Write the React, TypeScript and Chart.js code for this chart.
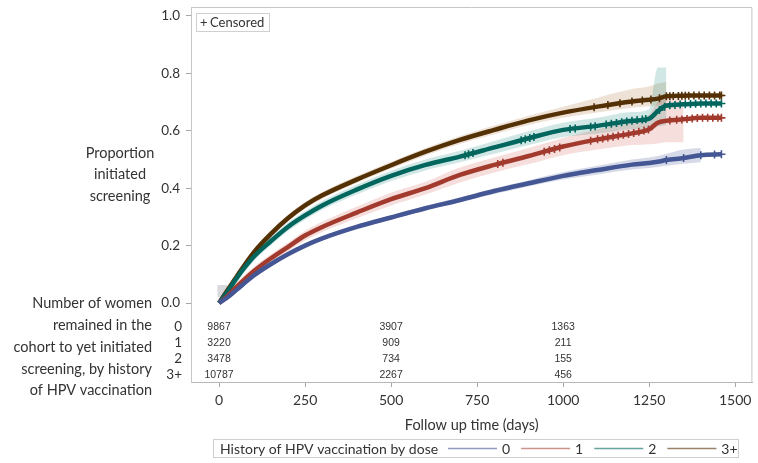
import React, { useEffect, useRef } from 'react';
import { Chart, registerables } from 'chart.js';
Chart.register(...registerables);

// ---- data ----
const DAYS = [0, 25, 50, 100, 150, 200, 250, 300, 400, 500, 600, 700, 800, 900, 1000, 1100, 1200, 1250, 1275, 1300, 1350, 1400, 1461];

const DOSE_LABELS = ['0', '1', '2', '3+'];

const DOSE0 = [0, 0.02, 0.045, 0.095, 0.135, 0.17, 0.2, 0.225, 0.265, 0.298, 0.33, 0.359, 0.39, 0.417, 0.443, 0.463, 0.482, 0.488, 0.492, 0.498, 0.505, 0.515, 0.518];
const DOSE1 = [0, 0.025, 0.055, 0.11, 0.155, 0.195, 0.235, 0.265, 0.315, 0.362, 0.4, 0.446, 0.481, 0.512, 0.545, 0.57, 0.591, 0.605, 0.628, 0.635, 0.64, 0.645, 0.645];
const DOSE2 = [0, 0.04, 0.085, 0.16, 0.215, 0.265, 0.305, 0.34, 0.395, 0.443, 0.481, 0.51, 0.542, 0.574, 0.603, 0.617, 0.635, 0.642, 0.668, 0.688, 0.692, 0.695, 0.695];
const DOSE3 = [0, 0.045, 0.09, 0.175, 0.24, 0.295, 0.34, 0.375, 0.43, 0.48, 0.527, 0.568, 0.603, 0.636, 0.663, 0.684, 0.702, 0.708, 0.712, 0.72, 0.722, 0.723, 0.723];

const DOSE0_LOW = [0, 0.012, 0.038, 0.088, 0.128, 0.163, 0.193, 0.218, 0.258, 0.29, 0.322, 0.35, 0.38, 0.406, 0.43, 0.448, 0.465, 0.47, 0.474, 0.478, 0.485, 0.49, null];
const DOSE0_HIGH = [0, 0.028, 0.052, 0.102, 0.142, 0.177, 0.207, 0.232, 0.272, 0.306, 0.338, 0.368, 0.4, 0.428, 0.456, 0.478, 0.5, 0.507, 0.512, 0.52, 0.535, 0.54, null];
const DOSE1_LOW = [0, 0.015, 0.04, 0.095, 0.14, 0.18, 0.218, 0.247, 0.295, 0.34, 0.378, 0.42, 0.455, 0.484, 0.515, 0.535, 0.55, 0.553, 0.556, 0.56, 0.56, null, null];
const DOSE1_HIGH = [0, 0.035, 0.07, 0.125, 0.17, 0.21, 0.252, 0.283, 0.335, 0.384, 0.422, 0.472, 0.507, 0.54, 0.575, 0.605, 0.635, 0.655, 0.7, 0.71, 0.71, null, null];
const DOSE2_LOW = [0, 0.03, 0.07, 0.145, 0.2, 0.25, 0.29, 0.325, 0.378, 0.425, 0.462, 0.49, 0.52, 0.55, 0.578, 0.59, 0.605, 0.608, 0.615, 0.62, null, null, null];
const DOSE2_HIGH = [0, 0.05, 0.1, 0.175, 0.23, 0.28, 0.32, 0.355, 0.412, 0.461, 0.5, 0.53, 0.564, 0.598, 0.628, 0.645, 0.665, 0.675, 0.82, 0.82, null, null, null];
const DOSE3_LOW = [0, 0.035, 0.08, 0.163, 0.228, 0.283, 0.328, 0.363, 0.418, 0.468, 0.514, 0.554, 0.588, 0.62, 0.645, 0.664, 0.68, 0.685, 0.688, 0.69, null, null, null];
const DOSE3_HIGH = [0, 0.055, 0.1, 0.187, 0.252, 0.307, 0.352, 0.387, 0.442, 0.492, 0.54, 0.582, 0.618, 0.652, 0.684, 0.715, 0.745, 0.755, 0.765, 0.77, null, null, null];

const START_BAND_DAYS = [-5, 25];
const START_BAND_LOW = [0.02, 0.02];
const START_BAND_HIGH = [0.063, 0.063];

const CENSOR0 = [1300, 1350, 1400, 1440, 1460];
const CENSOR1 = [810, 825, 945, 960, 975, 990, 1080, 1100, 1115, 1130, 1145, 1160, 1175, 1190, 1205, 1220, 1235, 1248, 1310, 1330, 1345, 1360, 1375, 1390, 1405, 1420, 1435, 1450, 1460];
const CENSOR2 = [715, 725, 738, 878, 890, 903, 915, 1020, 1035, 1080, 1093, 1125, 1140, 1155, 1170, 1185, 1200, 1215, 1230, 1240, 1280, 1295, 1310, 1325, 1340, 1355, 1370, 1385, 1400, 1415, 1430, 1445, 1460];
const CENSOR3 = [1090, 1130, 1165, 1200, 1230, 1255, 1280, 1300, 1310, 1320, 1335, 1345, 1355, 1365, 1380, 1395, 1410, 1425, 1440, 1455, 1460];

const X_TICKS = [0, 250, 500, 750, 1000, 1250, 1500];
const Y_TICKS = [0, 0.2, 0.4, 0.6, 0.8, 1.0];

const RISK_DAYS = [0, 500, 1000];
const RISK0 = [9867, 3907, 1363];
const RISK1 = [3220, 909, 211];
const RISK2 = [3478, 734, 155];
const RISK3 = [10787, 2267, 456];

const Y_TITLE = ['Proportion', 'initiated', 'screening'];
const RISK_TITLE = ['Number of women', 'remained in the', 'cohort to yet initiated', 'screening, by history', 'of HPV vaccination'];
const X_TITLE = 'Follow up time (days)';
const LEGEND_TITLE = 'History of HPV vaccination by dose';

// ---- styles ----
const COLORS = ['#445694', '#A23A2E', '#01665E', '#543005'];
const BAND_COLORS = ['rgba(68,86,148,0.22)', 'rgba(200,70,60,0.18)', 'rgba(1,120,110,0.18)', 'rgba(170,110,50,0.2)'];
const LEGEND_COLORS = ['rgba(68,86,148,0.6)', 'rgba(162,58,46,0.55)', 'rgba(1,102,94,0.6)', 'rgba(84,48,5,0.6)'];
const FONT = 'Lato, "Open Sans", sans-serif';
const TEXT = '#333333';

const SERIES = [DOSE0, DOSE1, DOSE2, DOSE3];
const LOWS = [DOSE0_LOW, DOSE1_LOW, DOSE2_LOW, DOSE3_LOW];
const HIGHS = [DOSE0_HIGH, DOSE1_HIGH, DOSE2_HIGH, DOSE3_HIGH];
const CENSORS = [CENSOR0, CENSOR1, CENSOR2, CENSOR3];
const RISKS = [RISK0, RISK1, RISK2, RISK3];

function pts(days: number[], vals: (number | null)[]) {
  return days.map((d, i) => ({ x: d, y: vals[i] }));
}
function onCurve(days: number[], vals: number[], d: number) {
  for (let i = 1; i < days.length; i++) {
    if (d <= days[i]) {
      const t = (d - days[i - 1]) / (days[i] - days[i - 1]);
      return vals[i - 1] + t * (vals[i] - vals[i - 1]);
    }
  }
  return vals[vals.length - 1];
}

const overlayPlugin = {
  id: 'overlay',
  afterDraw(chart: any) {
    const ctx = chart.ctx as CanvasRenderingContext2D;
    const { left, right, top, bottom } = chart.chartArea;
    const xs = chart.scales.x;
    const ys = chart.scales.y;
    ctx.save();
    // frame top / right
    ctx.strokeStyle = '#c6c6c6';
    ctx.lineWidth = 1;
    ctx.beginPath();
    ctx.moveTo(left, top + 0.5);
    ctx.lineTo(right - 0.5, top + 0.5);
    ctx.lineTo(right - 0.5, bottom);
    ctx.stroke();

    // censored inset legend
    ctx.strokeStyle = '#d0d0d0';
    ctx.strokeRect(left + 5.5, top + 6.5, 73, 18);
    ctx.fillStyle = TEXT;
    ctx.font = `13px ${FONT}`;
    ctx.textBaseline = 'middle';
    ctx.textAlign = 'left';
    ctx.fillText('+', left + 9, top + 16);
    ctx.fillText('Censored', left + 19, top + 16);

    // y title
    ctx.font = `14.5px ${FONT}`;
    ctx.textAlign = 'center';
    Y_TITLE.forEach((s, i) => ctx.fillText(s, 120, 153 + i * 21.5));

    // risk table title
    ctx.textAlign = 'right';
    RISK_TITLE.forEach((s, i) => ctx.fillText(s, 152, 303.5 + i * 21.8));

    // risk table
    const y0 = ys.getPixelForValue(0);
    RISKS.forEach((row, r) => {
      const ry = y0 + 24 + r * 16;
      ctx.font = `13.5px ${FONT}`;
      ctx.textAlign = 'right';
      ctx.fillStyle = TEXT;
      ctx.fillText(DOSE_LABELS[r], left - 9, ry);
      ctx.font = `10.5px "Liberation Sans", Arial, sans-serif`;
      ctx.textAlign = 'center';
      row.forEach((n, k) => ctx.fillText(String(n), xs.getPixelForValue(RISK_DAYS[k]), ry));
    });

    // x title
    ctx.font = `14.5px ${FONT}`;
    ctx.textAlign = 'center';
    ctx.fillText(X_TITLE, (left + right) / 2, 425);

    // legend
    ctx.strokeStyle = '#cfcfcf';
    ctx.strokeRect(213.5, 439.5, 525, 18);
    ctx.textAlign = 'left';
    ctx.font = `14px ${FONT}`;
    ctx.fillText(LEGEND_TITLE, 220, 449);
    let lx = 448;
    DOSE_LABELS.forEach((lab, i) => {
      ctx.strokeStyle = LEGEND_COLORS[i];
      ctx.lineWidth = 1.5;
      ctx.beginPath();
      ctx.moveTo(lx, 448.5);
      ctx.lineTo(lx + 49, 448.5);
      ctx.stroke();
      ctx.fillStyle = TEXT;
      ctx.fillText(lab, lx + 54, 449);
      lx += 54 + ctx.measureText(lab).width + 11;
    });
    ctx.restore();
  },
};

export default function App() {
  const ref = useRef<HTMLCanvasElement>(null);
  useEffect(() => {
    if (!ref.current) return;
    const datasets: any[] = [];
    // censor marks (top)
    CENSORS.forEach((cs, i) => {
      datasets.push({
        label: 'cens' + i,
        data: cs.map((d) => ({ x: d, y: onCurve(DAYS, SERIES[i], d) })),
        showLine: false,
        pointStyle: 'cross',
        pointRadius: 4,
        borderColor: COLORS[i],
        backgroundColor: COLORS[i],
        pointBorderWidth: 1.6,
        order: 0,
      });
    });
    // curves
    SERIES.forEach((vals, i) => {
      datasets.push({
        label: DOSE_LABELS[i],
        data: pts(DAYS, vals),
        borderColor: COLORS[i],
        borderWidth: 4.5,
        pointRadius: 0,
        cubicInterpolationMode: 'monotone',
        fill: false,
        order: 1,
      });
    });
    // bands
    LOWS.forEach((lo, i) => {
      const idx = datasets.length;
      datasets.push({
        label: 'lo' + i,
        data: pts(DAYS, lo),
        borderWidth: 0,
        pointRadius: 0,
        borderColor: 'rgba(0,0,0,0)',
        cubicInterpolationMode: 'monotone',
        fill: false,
        order: 2,
      });
      datasets.push({
        label: 'hi' + i,
        data: pts(DAYS, HIGHS[i]),
        borderWidth: 0,
        pointRadius: 0,
        borderColor: 'rgba(0,0,0,0)',
        backgroundColor: BAND_COLORS[i],
        cubicInterpolationMode: 'monotone',
        fill: { target: idx },
        order: 2,
      });
    });
    {
      const idx = datasets.length;
      datasets.push({
        label: 'startLo',
        data: pts(START_BAND_DAYS, START_BAND_LOW),
        borderWidth: 0,
        pointRadius: 0,
        borderColor: 'rgba(0,0,0,0)',
        fill: false,
        order: 2,
      });
      datasets.push({
        label: 'startHi',
        data: pts(START_BAND_DAYS, START_BAND_HIGH),
        borderWidth: 0,
        pointRadius: 0,
        borderColor: 'rgba(0,0,0,0)',
        backgroundColor: 'rgba(150,150,160,0.35)',
        fill: { target: idx },
        order: 2,
      });
    }

    const chart = new Chart(ref.current, {
      type: 'line',
      data: { datasets },
      options: {
        animation: false,
        responsive: false,
        devicePixelRatio: 1,
        layout: { padding: { top: 7, right: 1, left: 0, bottom: 0 } },
        plugins: { legend: { display: false }, tooltip: { enabled: false } },
        scales: {
          x: {
            type: 'linear',
            min: -81.5,
            max: 1550,
            afterBuildTicks: (s: any) => {
              s.ticks = X_TICKS.map((v) => ({ value: v }));
            },
            afterFit: (s: any) => {
              s.height = 81;
              s.paddingLeft = 0;
              s.paddingRight = 0;
            },
            ticks: {
              font: { family: FONT, size: 14 },
              color: TEXT,
              padding: 5,
              maxRotation: 0,
              callback: (v: any) => String(v),
            },
            grid: { drawOnChartArea: false, drawTicks: true, tickLength: 5, color: '#a8a8a8' },
            border: { display: true, color: '#b8b8b8' },
          },
          y: {
            type: 'linear',
            min: -0.275,
            max: 1.031,
            afterBuildTicks: (s: any) => {
              s.ticks = Y_TICKS.map((v) => ({ value: v }));
            },
            afterFit: (s: any) => {
              s.width = 191;
              s.paddingTop = 0;
              s.paddingBottom = 0;
            },
            ticks: {
              font: { family: FONT, size: 13.5 },
              color: TEXT,
              padding: 6,
              callback: (v: any) => Number(v).toFixed(1),
            },
            grid: { drawOnChartArea: false, drawTicks: true, tickLength: 5, color: '#a8a8a8' },
            border: { display: true, color: '#c6c6c6' },
          },
        },
      },
      plugins: [overlayPlugin],
    });
    return () => chart.destroy();
  }, []);
  return (
    <div style={{ position: 'absolute', left: 0, top: 0, width: 758, height: 463, background: '#fff' }}>
      <canvas ref={ref} width={758} height={463} style={{ display: 'block' }} />
    </div>
  );
}
